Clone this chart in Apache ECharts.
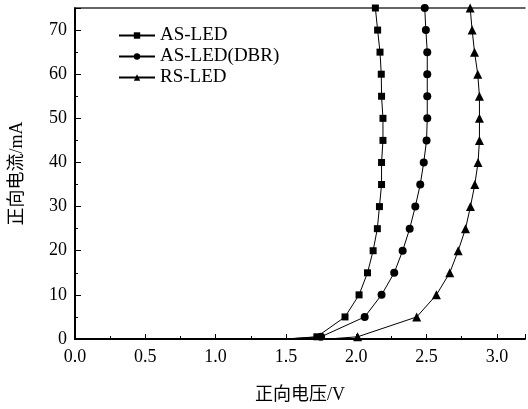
<!DOCTYPE html>
<html lang="zh">
  <head>
    <meta charset="UTF-8" />
    <title>正向电流-电压曲线</title>
    <script src="https://cdn.jsdelivr.net/npm/echarts@6/dist/echarts.min.js"></script>
    <style>
      * {
        margin: 0;
        padding: 0;
      }
      body {
        background: #fff;
      }
    </style>
  </head>
  <body>
    <div id="main" style="width: 528px; height: 409px"></div>
    <script>
      // 电流 (mA)，三条曲线共用
      var current = [0, 0, 0.5, 5, 10, 15, 20, 25, 30, 35, 40, 45, 50, 55, 60, 65, 70, 75];
      // 各器件对应的正向电压 (V)
      var voltAS = [0, 1.5, 1.72, 1.92, 2.02, 2.08, 2.12, 2.15, 2.165, 2.18, 2.18, 2.19, 2.19, 2.18, 2.178, 2.169, 2.152, 2.136];
      var voltDBR = [0, 1.5, 1.75, 2.06, 2.18, 2.27, 2.33, 2.38, 2.42, 2.455, 2.48, 2.5, 2.505, 2.505, 2.505, 2.505, 2.495, 2.487];
      var voltRS = [0, 1.8, 2.01, 2.43, 2.57, 2.665, 2.725, 2.777, 2.812, 2.843, 2.866, 2.876, 2.876, 2.876, 2.864, 2.841, 2.824, 2.81];
      var names = ['AS-LED', 'AS-LED(DBR)', 'RS-LED'];

      function pairs(v) {
        return v.map(function (x, i) {
          return [x, current[i]];
        });
      }

      var font = 'Liberation Serif, Noto Sans CJK SC, serif';
      var myChart = echarts.init(document.getElementById('main'));

      function makeSeries(name, volt, symbol, size) {
        return {
          name: name,
          type: 'line',
          data: pairs(volt),
          symbol: symbol,
          symbolSize: function (val) {
            return val[1] < 0.4 ? 0 : size; // 零电流的点不画标记
          },
          clip: true,
          itemStyle: { color: '#000' },
          lineStyle: { color: '#000', width: 1 }
        };
      }

      myChart.setOption({
        animation: false,
        textStyle: { fontFamily: font },
        grid: { left: 74, top: 8, right: 1.5, bottom: 67 },
        legend: {
          orient: 'vertical',
          left: 113,
          top: 21,
          itemWidth: 36,
          itemHeight: 8,
          itemGap: 2,
          textStyle: { fontSize: 19, color: '#000', fontFamily: font },
          data: names
        },
        xAxis: [
          {
            type: 'value',
            min: 0,
            max: 3.2,
            interval: 0.5,
            name: '正向电压/V',
            nameLocation: 'middle',
            nameGap: 47,
            nameTextStyle: { fontSize: 18, color: '#000', fontFamily: font },
            axisLine: { lineStyle: { color: '#000', width: 2 } },
            axisTick: { inside: true, length: 5, lineStyle: { color: '#000' } },
            minorTick: { show: true, splitNumber: 2, length: 3, lineStyle: { color: '#000' } },
            splitLine: { show: false },
            axisLabel: {
              fontSize: 18,
              color: '#000',
              margin: 9,
              formatter: function (v) {
                return v > 3.05 ? '' : v.toFixed(1);
              }
            }
          },
          {
            type: 'value',
            position: 'top',
            min: 0,
            max: 3.2,
            axisLine: { show: true, onZero: false, lineStyle: { color: '#333', width: 1.5 } },
            axisTick: { show: false },
            axisLabel: { show: false },
            splitLine: { show: false }
          }
        ],
        yAxis: {
          type: 'value',
          min: 0,
          max: 75,
          interval: 10,
          name: '正向电流/mA',
          nameLocation: 'middle',
          nameGap: 49,
          nameTextStyle: { fontSize: 18, color: '#000', fontFamily: font },
          axisLine: { show: true, lineStyle: { color: '#000', width: 2 } },
          axisTick: { show: true, inside: true, length: 6, lineStyle: { color: '#000' } },
          minorTick: { show: true, splitNumber: 2, length: 3, lineStyle: { color: '#000' } },
          splitLine: { show: false },
          axisLabel: {
            fontSize: 18,
            color: '#000',
            margin: 8,
            formatter: function (v) {
              return v > 72 ? '' : v;
            }
          }
        },
        series: [
          makeSeries(names[0], voltAS, 'rect', 7),
          makeSeries(names[1], voltDBR, 'circle', 8),
          makeSeries(names[2], voltRS, 'triangle', 9)
        ]
      });
    </script>
  </body>
</html>
